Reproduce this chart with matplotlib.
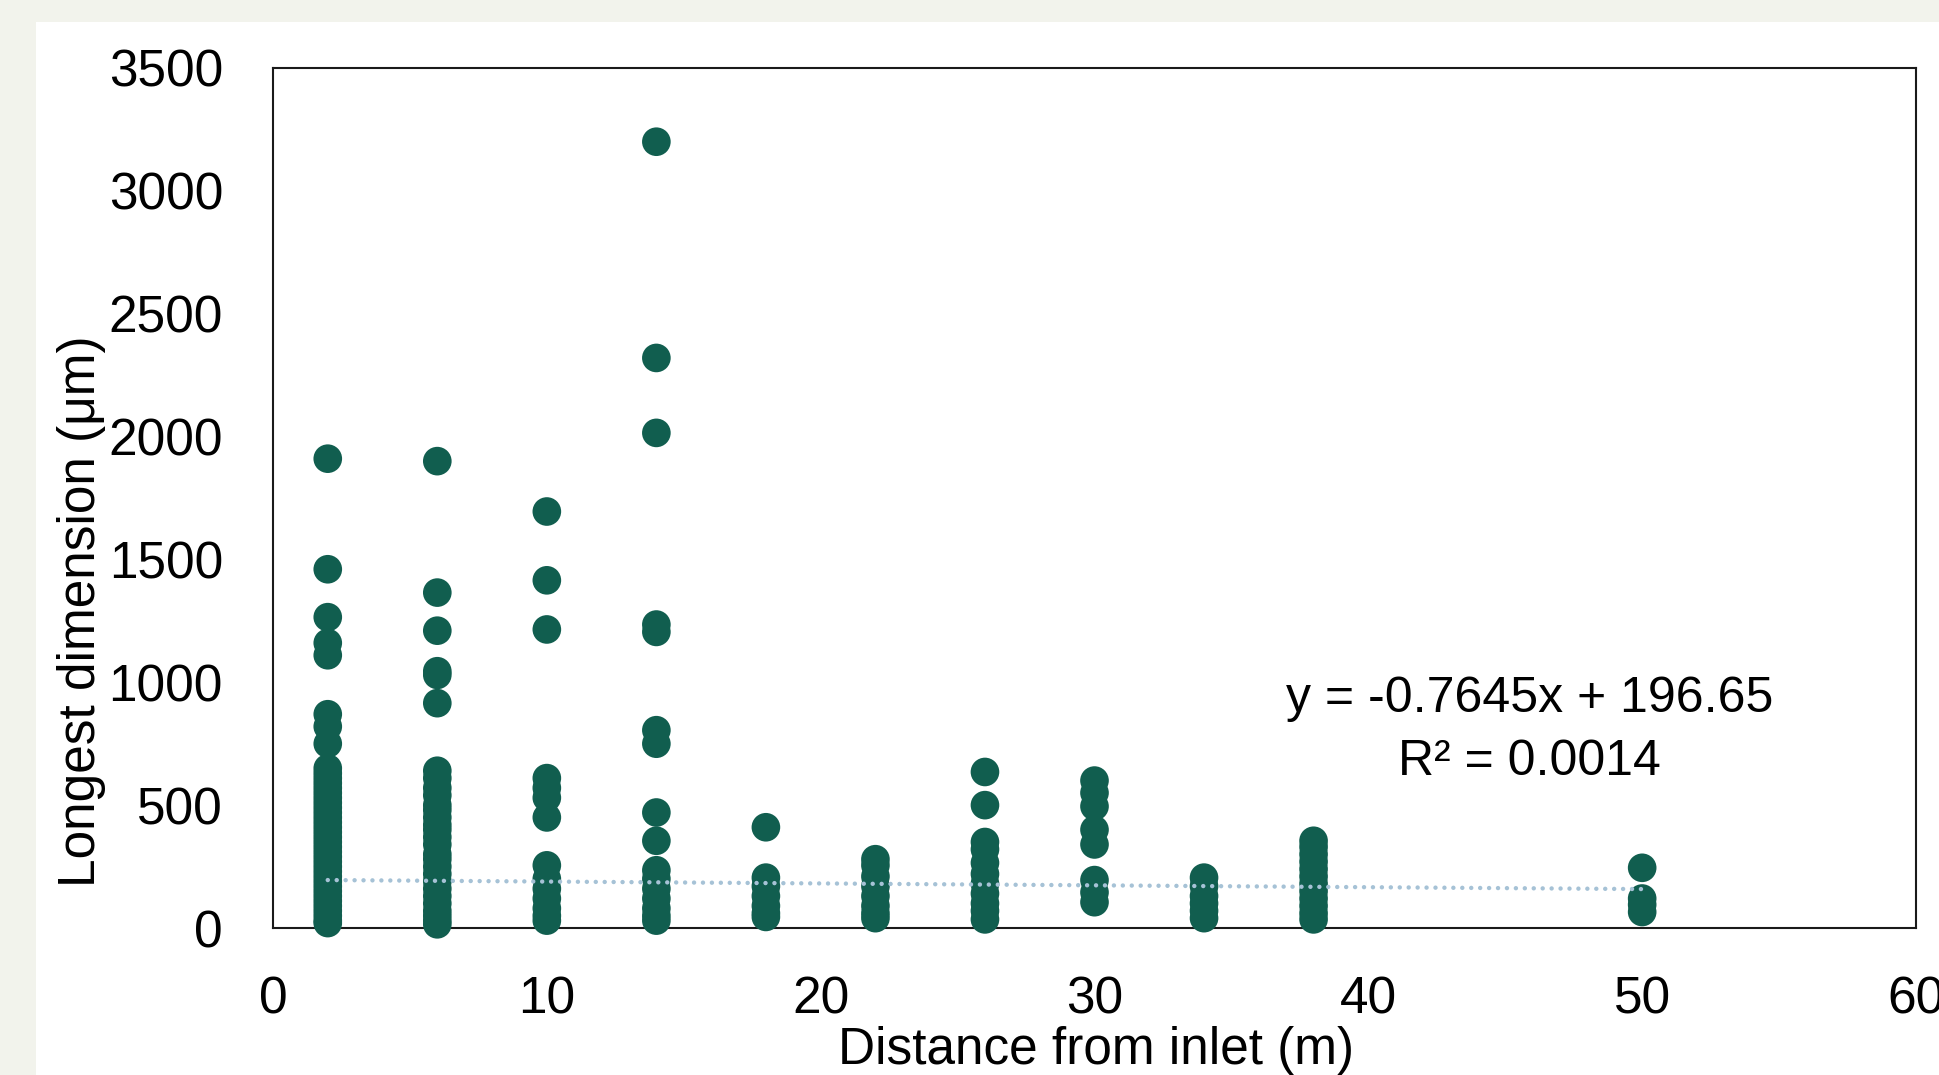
import matplotlib
matplotlib.use("Agg")
import matplotlib.pyplot as plt
from matplotlib.patches import Rectangle

# ---- data ----
distances = [2, 6, 10, 14, 18, 22, 26, 30, 34, 38, 50]
dim_2 = [1910, 1460, 1265, 1160, 1110, 870, 820, 750, 650, 630, 610, 590, 570, 550, 530, 510,
         490, 470, 450, 430, 410, 390, 370, 350, 330, 310, 290, 270, 250, 230, 210, 190, 170,
         150, 130, 110, 90, 70, 50, 30, 20]
dim_6 = [1900, 1365, 1210, 1045, 1030, 915, 640, 610, 570, 540, 500, 480, 450, 420, 400, 370,
         340, 300, 280, 250, 220, 190, 160, 130, 100, 70, 50, 30, 15]
dim_10 = [1695, 1415, 1215, 610, 570, 530, 450, 255, 200, 160, 120, 80, 50, 30]
dim_14 = [3200, 2320, 2015, 1235, 1205, 805, 750, 470, 355, 235, 200, 160, 120, 80, 50, 30]
dim_18 = [410, 205, 170, 130, 90, 60, 45]
dim_22 = [280, 255, 210, 170, 130, 90, 60, 40]
dim_26 = [635, 500, 350, 320, 265, 220, 180, 140, 100, 70, 35]
dim_30 = [600, 550, 495, 400, 340, 195, 145, 105]
dim_34 = [205, 170, 130, 100, 70, 40]
dim_38 = [355, 330, 300, 270, 240, 210, 180, 150, 120, 90, 60, 35]
dim_50 = [245, 120, 95, 65]
groups = [dim_2, dim_6, dim_10, dim_14, dim_18, dim_22, dim_26, dim_30, dim_34, dim_38, dim_50]

trend_slope = -0.7645
trend_intercept = 196.65
trend_r2 = 0.0014
trend_x = [2, 50]

x_ticks = [0, 10, 20, 30, 40, 50, 60]
y_ticks = [0, 500, 1000, 1500, 2000, 2500, 3000, 3500]

# ---- figure ----
plt.rcParams['font.family'] = ['Liberation Sans', 'DejaVu Sans']
W, H = 1939, 1075
AX_L, AX_R, AX_T, AX_B = 273, 1916, 68, 928
fig = plt.figure(figsize=(W / 100, H / 100), dpi=100, facecolor='#F2F3EC')
fig.patches.append(Rectangle((36 / W, 0), 1 - 36 / W, 1 - 22 / H, transform=fig.transFigure,
                             facecolor='white', edgecolor='none', zorder=-10))

ax = fig.add_axes([AX_L / W, 1 - AX_B / H, (AX_R - AX_L) / W, (AX_B - AX_T) / H])
ax.set_facecolor('white')

xs, ys = [], []
for d, g in zip(distances, groups):
    xs += [d] * len(g)
    ys += g
ax.scatter(xs, ys, s=425, color='#115E4F', edgecolors='none', zorder=3, clip_on=False)

ty = [trend_intercept + trend_slope * x for x in trend_x]
ax.plot(trend_x, ty, color='#A6C2D6', lw=3.2, linestyle=(0, (0.01, 2.0)),
        dash_capstyle='round', zorder=4)

ax.set_xlim(0, 60)
ax.set_ylim(0, 3500)
ax.set_xticks(x_ticks)
ax.set_yticks(y_ticks)
ax.tick_params(axis='both', length=0, labelsize=37)
ax.tick_params(axis='y', pad=36)
ax.tick_params(axis='x', pad=34)
for s in ax.spines.values():
    s.set_linewidth(1.5)
    s.set_color('#1a1a1a')
    s.set_zorder(2)

ax.set_xlabel('Distance from inlet (m)', fontsize=37, labelpad=0)
ax.set_ylabel('Longest dimension (μm)', fontsize=37, labelpad=0)
ax.xaxis.set_label_coords((1096 - AX_L) / (AX_R - AX_L), (AX_B - 1026) / (AX_B - AX_T))
ax.yaxis.set_label_coords((106 - AX_L) / (AX_R - AX_L), (AX_B - 611) / (AX_B - AX_T))

ax.text(45.9, 804, f'y = {trend_slope}x + {trend_intercept}\nR² = {trend_r2}',
        fontsize=36, ha='center', va='center', linespacing=1.47,
        transform=ax.transData)

fig.savefig('out.png', dpi=100, facecolor=fig.get_facecolor())
